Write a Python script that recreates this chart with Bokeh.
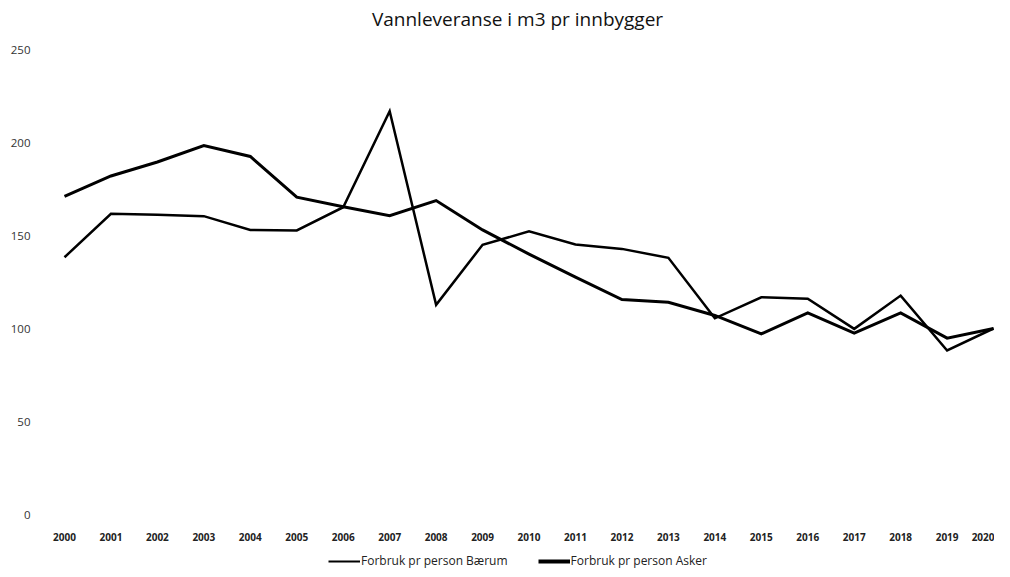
from bokeh.plotting import figure
from bokeh.models import Range1d, FixedTicker, Legend, LegendItem, ColumnDataSource
from bokeh.core.properties import value
from bokeh.layouts import column
from bokeh.embed import file_html
from bokeh.resources import INLINE

years = list(range(2000, 2021))
baerum = [138.3, 161.7, 161.1, 160.4, 153.0, 152.7, 165.2, 216.8, 112.7, 145.0,
          152.2, 145.2, 142.8, 138.0, 105.5, 116.8, 116.0, 99.8, 117.7, 88.2, 100.0]
asker = [171.0, 182.0, 189.5, 198.4, 192.5, 170.6, 165.5, 160.6, 168.8, 153.0,
         140.0, 127.6, 115.6, 114.1, 107.0, 97.1, 108.4, 97.5, 108.4, 94.8, 100.0]
y_ticks = [0, 50, 100, 150, 200, 250]
title_text = "Vannleveranse i m3 pr innbygger"
label_baerum = "Forbruk pr person Bærum"
label_asker = "Forbruk pr person Asker"

FONT = "Open Sans"
W_BAERUM = 2.5
W_ASKER = 3
WIDTH = 994
LEFT = 41


def strip(height):
    f = figure(width=WIDTH, height=height, output_backend="svg", toolbar_location=None,
               title_location=None, x_axis_location=None, y_axis_location=None,
               x_range=Range1d(LEFT, WIDTH), y_range=Range1d(0, height),
               min_border_left=LEFT, min_border_right=0, min_border_top=0, min_border_bottom=0)
    f.grid.visible = False
    f.outline_line_color = None
    return f


# title strip
top = strip(36)
top.text(x=[517], y=[17.5], text=[title_text], text_align="center", text_baseline="middle",
         text_font=value(FONT), text_font_size="19px", text_color="#111111")

# main chart
p = figure(width=WIDTH, height=512, output_backend="svg", toolbar_location=None,
           title_location=None,
           x_range=Range1d(1999.505, 2020.02), y_range=Range1d(0, 250),
           min_border_left=LEFT, min_border_right=0, min_border_top=13, min_border_bottom=34)
p.outline_line_color = None
p.xgrid.visible = False
p.ygrid.visible = False

src = ColumnDataSource(dict(x=years, b=baerum, a=asker))
p.line("x", "b", source=src, line_color="black", line_width=W_BAERUM, line_join="miter")
p.line("x", "a", source=src, line_color="black", line_width=W_ASKER, line_join="miter")

p.xaxis.ticker = FixedTicker(ticks=years)
p.xaxis.axis_line_color = None
p.xaxis.major_tick_line_color = None
p.xaxis.major_tick_out = 0
p.xaxis.major_tick_in = 0
p.xaxis.minor_tick_line_color = None
p.xaxis.major_label_text_font = FONT
p.xaxis.major_label_text_font_size = "10px"
p.xaxis.major_label_text_font_style = "bold"
p.xaxis.major_label_text_color = "#222222"
p.xaxis.major_label_standoff = 18

p.yaxis.ticker = FixedTicker(ticks=y_ticks)
p.yaxis.axis_line_color = None
p.yaxis.major_tick_line_color = None
p.yaxis.major_tick_out = 0
p.yaxis.major_tick_in = 0
p.yaxis.minor_tick_line_color = None
p.yaxis.major_label_text_font = FONT
p.yaxis.major_label_text_font_size = "11.5px"
p.yaxis.major_label_text_color = "#333333"
p.yaxis.major_label_standoff = 11

# legend strip below the chart
lg = strip(21)
rb = lg.line(x=[-20, -10], y=[-20, -20], line_color="black", line_width=2)
ra = lg.line(x=[-20, -10], y=[-20, -20], line_color="black", line_width=4)
legend = Legend(items=[LegendItem(label=label_baerum, renderers=[rb]),
                       LegendItem(label=label_asker, renderers=[ra])],
                orientation="horizontal", location=(328 - LEFT, 0),
                label_text_font=FONT, label_text_font_size="12px",
                label_text_color="#222222", glyph_width=32, glyph_height=12,
                label_standoff=1, spacing=30, padding=0, margin=0,
                label_height=16, border_line_color=None, background_fill_alpha=0)
lg.add_layout(legend)

open("out.html", "w").write(file_html(column(top, p, lg, spacing=0), INLINE))
